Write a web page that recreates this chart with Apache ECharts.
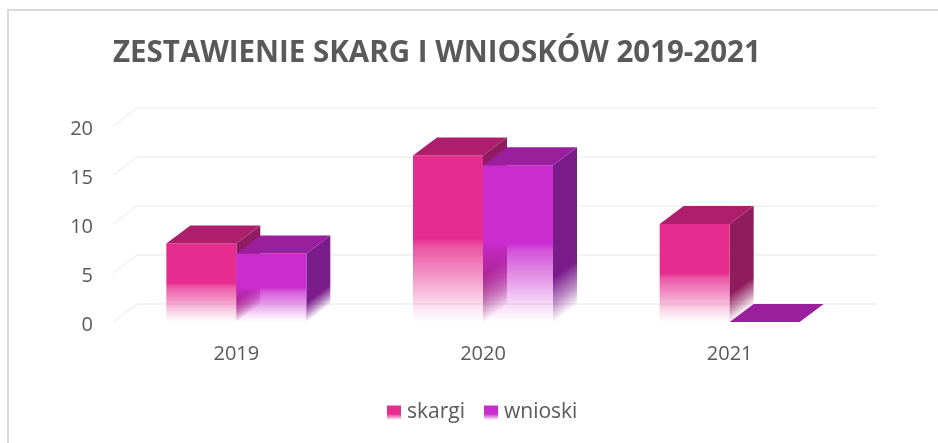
<!DOCTYPE html>
<html>
<head>
<meta charset="utf-8">
<style>
  html, body { margin: 0; padding: 0; background: #fff; }
  #chart { width: 938px; height: 443px; }
</style>
<script src="https://cdn.jsdelivr.net/npm/echarts@6/dist/echarts.min.js"></script>
</head>
<body>
<div id="chart"></div>
<script>
const years = ['2019', '2020', '2021'];
const skargi = [8, 17, 10];
const wnioski = [7, 16, 0];
const yTicks = [0, 5, 10, 15, 20];

// depth of the fake 3D box, in pixels
const DX = 24;
const DY = -18;
const BAR_W = 70;

const chart = echarts.init(document.getElementById('chart'));

function grad(x1, y1, x2, y2, stops) {
  return new echarts.graphic.LinearGradient(x1, y1, x2, y2, stops, true);
}

function frontFade(color, rgb) {
  return [
    { offset: 0, color: color },
    { offset: 0.5, color: color },
    { offset: 0.55, color: 'rgba(' + rgb + ',0.8)' },
    { offset: 0.72, color: 'rgba(' + rgb + ',0.5)' },
    { offset: 0.9, color: 'rgba(' + rgb + ',0.15)' },
    { offset: 1, color: 'rgba(' + rgb + ',0)' }
  ];
}

function sideFade(color, rgb) {
  return [
    { offset: 0, color: color },
    { offset: 0.72, color: color },
    { offset: 0.88, color: 'rgba(' + rgb + ',0.5)' },
    { offset: 1, color: 'rgba(' + rgb + ',0.03)' }
  ];
}

// one box: offset is -1 for the left bar of a group and 0 for the right one
function boxRenderer(offset, front, frontRgb, top, side, sideRgb) {
  return function (params, api) {
    const cx = api.coord([api.value(0), 0])[0];
    const base = api.coord([api.value(0), 0])[1];
    const y = api.coord([api.value(0), api.value(1)])[1];
    const h = base - y;
    const x0 = cx + offset * BAR_W;
    const x1 = x0 + BAR_W;
    const children = [];
    if (api.value(1) > 0) {
      // side fades along the slanted bottom edge
      children.push({
        type: 'polygon',
        shape: { points: [[x1, y], [x1 + DX, y + DY], [x1 + DX, base + DY], [x1, base]] },
        style: { fill: grad(x1 + DX, y + DY, x1 + DX + 0.48 * h, y + DY + 0.64 * h, sideFade(side, sideRgb)) }
      });
      children.push({
        type: 'rect',
        shape: { x: x0, y: y, width: BAR_W, height: h },
        style: { fill: grad(0, y, 0, base, frontFade(front, frontRgb)) }
      });
    }
    children.push({
      type: 'polygon',
      shape: { points: [[x0, y], [x0 + DX, y + DY], [x1 + DX, y + DY], [x1, y]] },
      style: { fill: top }
    });
    return { type: 'group', children: children };
  };
}

// back wall line with its slanted part on the left, one per tick
function gridRenderer(params, api) {
  const p = api.coord([0, api.value(0)]);
  const left = params.coordSys.x;
  const right = left + params.coordSys.width;
  return {
    type: 'polyline',
    shape: { points: [[left, p[1]], [left + DX, p[1] + DY], [right + DX, p[1] + DY]] },
    style: { fill: null, stroke: '#f0f0f0', lineWidth: 1.5 }
  };
}

function legendColor(color, rgb) {
  return new echarts.graphic.LinearGradient(0, 0, 0, 1, [
    { offset: 0, color: color },
    { offset: 0.6, color: color },
    { offset: 1, color: 'rgba(' + rgb + ',0.1)' }
  ]);
}

chart.setOption({
  animation: false,
  title: {
    text: 'ZESTAWIENIE SKARG I WNIOSKÓW 2019-2021',
    left: 108,
    top: 34,
    textStyle: {
      fontFamily: 'Open Sans',
      fontSize: 29.5,
      fontWeight: 'bold',
      color: '#595959'
    }
  },
  legend: {
    data: ['skargi', 'wnioski'],
    left: 382,
    top: 397,
    itemWidth: 14,
    itemHeight: 14,
    itemGap: 19,
    icon: 'rect',
    textStyle: { fontFamily: 'Open Sans', fontSize: 21, color: '#595959', padding: [0, 0, 0, 1] }
  },
  grid: { left: 113, top: 126, width: 740, height: 196 },
  xAxis: {
    type: 'category',
    data: years,
    axisLine: { show: false },
    axisTick: { show: false },
    axisLabel: { fontFamily: 'Open Sans', fontSize: 20, color: '#595959', margin: 22 }
  },
  yAxis: {
    type: 'value',
    min: 0,
    max: 20,
    interval: 5,
    axisLine: { show: false },
    axisTick: { show: false },
    splitLine: { show: false },
    axisLabel: {
      color: '#595959',
      margin: 20,
      formatter: '{n|{value}}',
      rich: { n: { fontFamily: 'Open Sans', fontSize: 20, color: '#595959', padding: [6, 0, 0, 0] } }
    }
  },
  series: [
    {
      type: 'custom',
      silent: true,
      data: yTicks.map(v => [v]),
      encode: { y: 0 },
      renderItem: gridRenderer,
      z: 1
    },
    {
      name: 'skargi',
      type: 'custom',
      data: skargi.map((v, i) => [i, v]),
      encode: { x: 0, y: 1 },
      itemStyle: { color: legendColor('#e62c8e', '230,44,142') },
      renderItem: boxRenderer(-1, '#e62c8e', '230,44,142', '#ad1f6c', '#8f1c5e', '143,28,94'),
      z: 2
    },
    {
      name: 'wnioski',
      type: 'custom',
      data: wnioski.map((v, i) => [i, v]),
      encode: { x: 0, y: 1 },
      itemStyle: { color: legendColor('#c92dd0', '201,45,208') },
      renderItem: boxRenderer(0, '#c92dd0', '201,45,208', '#9a1f9c', '#7a1c8a', '122,28,138'),
      z: 3
    }
  ],
  graphic: [
    {
      type: 'polyline',
      silent: true,
      shape: { points: [[8, 443], [8, 10], [938, 10]] },
      style: { fill: null, stroke: '#d9d9d9', lineWidth: 2 }
    }
  ]
});
</script>
</body>
</html>
